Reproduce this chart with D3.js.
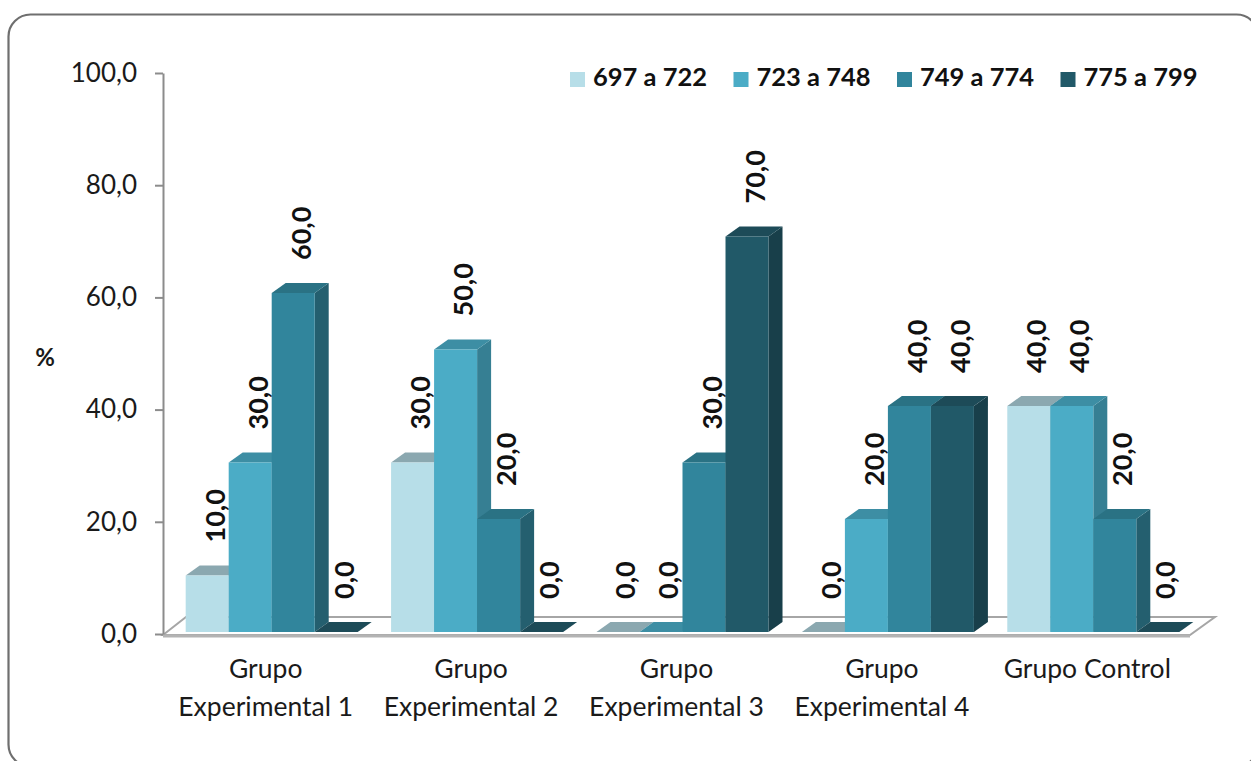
<!DOCTYPE html>
<html>
<head>
<meta charset="utf-8">
<script src="https://cdn.jsdelivr.net/npm/d3@7"></script>
<style>
  html, body { margin: 0; padding: 0; background: #fff; }
  svg { display: block; }
</style>
</head>
<body>
<svg id="chart" width="1251" height="761"></svg>
<script>
// ---- data ----
const categories = ["Grupo Experimental 1", "Grupo Experimental 2", "Grupo Experimental 3", "Grupo Experimental 4", "Grupo Control"];
const seriesNames = ["697 a 722", "723 a 748", "749 a 774", "775 a 799"];
const values697 = [10, 30, 0, 0, 40];
const values723 = [30, 50, 0, 20, 40];
const values749 = [60, 20, 30, 40, 20];
const values775 = [0, 0, 70, 40, 0];
const yTicks = [0, 20, 40, 60, 80, 100];
const yTitle = "%";

// ---- styling ----
const faceColors = ["#b7dee8", "#4bacc6", "#31859c", "#215968"];
const topColors  = ["#8ba8b0", "#3d8ea4", "#2a7284", "#1d4b58"];
const sideColors = ["#93b2ba", "#367f93", "#245f6f", "#183f4a"];
const seriesValues = [values697, values723, values749, values775];

const svg = d3.select("#chart");
const fmt = d3.formatLocale({ decimal: ",", thousands: ".", grouping: [3], currency: ["", ""] }).format(".1f");
const FONT = "Lato, 'Open Sans', sans-serif";

// outer rounded frame
svg.append("rect")
  .attr("x", 8.5).attr("y", 14.5)
  .attr("width", 1250).attr("height", 752)
  .attr("rx", 22).attr("ry", 22)
  .attr("fill", "#fff").attr("stroke", "#6f6f6f").attr("stroke-width", 2.2);

// ---- geometry of the 3D box ----
const plotLeft = 163, plotRight = 1190;
const floorFrontY = 635;
const floorDepth = { dx: 23, dy: -18 };
const barDepth = { dx: 14, dy: -10 };
const barShiftX = 6;

const x = d3.scaleBand().domain(categories).range([plotLeft, plotRight]).paddingInner(0).paddingOuter(0);
const xs = d3.scaleBand().domain(seriesNames).range([0, x.bandwidth()]).paddingInner(0).paddingOuter(0.388);
const yBar = d3.scaleLinear().domain([0, 100]).range([632, 67]);
const yAx = d3.scaleLinear().domain([0, 100]).range([634, 73]);

// floor
const floorPts = [
  [plotLeft, floorFrontY],
  [plotLeft + floorDepth.dx, floorFrontY + floorDepth.dy],
  [plotRight + floorDepth.dx + 2, floorFrontY + floorDepth.dy],
  [plotRight, floorFrontY]
];
svg.append("polygon")
  .attr("points", floorPts.map(p => p.join(",")).join(" "))
  .attr("fill", "#fff").attr("stroke", "#a6a6a6").attr("stroke-width", 2);
svg.append("line")
  .attr("x1", plotLeft).attr("x2", plotRight)
  .attr("y1", floorFrontY + 1).attr("y2", floorFrontY + 1)
  .attr("stroke", "#b3b3b3").attr("stroke-width", 3);

// value axis
const axisG = svg.append("g").attr("transform", `translate(${plotLeft},0)`)
  .call(d3.axisLeft(yAx).tickValues(yTicks).tickFormat(fmt).tickSize(8).tickSizeOuter(0).tickPadding(18));
axisG.select(".domain").attr("stroke", "#8c8c8c").attr("stroke-width", 2);
axisG.selectAll(".tick line").attr("stroke", "#8c8c8c").attr("stroke-width", 2);
axisG.selectAll(".tick text")
  .attr("font-family", FONT).attr("font-size", 26).attr("fill", "#1a1a1a");

// axis title
svg.append("text").attr("x", 45).attr("y", 366).attr("text-anchor", "middle")
  .attr("font-family", FONT).attr("font-weight", "bold")
  .attr("font-size", 24).attr("fill", "#1a1a1a").text(yTitle);

// ---- bars ----
const barsG = svg.append("g");
const labelsG = svg.append("g");
const poly = pts => pts.map(p => p.join(",")).join(" ");

categories.forEach((cat, ci) => {
  seriesNames.forEach((s, si) => {
    const v = seriesValues[si][ci];
    const x0 = x(cat) + xs(s) + barShiftX;
    const x1 = x0 + xs.bandwidth();
    const yb = yBar(0), yt = yBar(v);
    const dx = barDepth.dx, dy = barDepth.dy;
    const g = barsG.append("g");
    // right side
    g.append("polygon")
      .attr("points", poly([[x1, yt], [x1 + dx, yt + dy], [x1 + dx, yb + dy], [x1, yb]]))
      .attr("fill", sideColors[si]);
    // top
    g.append("polygon")
      .attr("points", poly([[x0, yt], [x0 + dx, yt + dy], [x1 + dx, yt + dy], [x1, yt]]))
      .attr("fill", topColors[si]);
    // front
    g.append("rect")
      .attr("x", x0).attr("y", yt).attr("width", x1 - x0).attr("height", yb - yt)
      .attr("fill", faceColors[si]);

    // value label, rotated, above the bar
    const lx = (x0 + x1) / 2 + dx / 2;
    const ly = yt + dy - 23;
    labelsG.append("text")
      .attr("transform", `translate(${lx},${ly}) rotate(-90)`)
      .attr("text-anchor", "start").attr("dominant-baseline", "central")
      .attr("font-family", FONT).attr("font-weight", "bold")
      .attr("font-size", 27).attr("fill", "#111")
      .text(fmt(v));
  });
});

// ---- category labels (wrapped to the band width) ----
const catG = svg.append("g")
  .attr("font-family", FONT).attr("font-size", 26.5).attr("fill", "#1a1a1a")
  .attr("text-anchor", "middle");
categories.forEach(cat => {
  const cx = x(cat) + x.bandwidth() / 2;
  const t = catG.append("text").attr("x", cx).attr("y", 678).text(cat);
  if (t.node().getComputedTextLength() > x.bandwidth() - 20) {
    const words = cat.split(" ");
    t.text(null);
    t.append("tspan").attr("x", cx).attr("y", 678).text(words[0]);
    t.append("tspan").attr("x", cx).attr("y", 716).text(words.slice(1).join(" "));
  }
});

// ---- legend ----
const legendG = svg.append("g");
seriesNames.forEach((s, si) => {
  const lx = 570 + si * 163.5;
  legendG.append("rect").attr("x", lx).attr("y", 72).attr("width", 15).attr("height", 15)
    .attr("fill", faceColors[si]);
  legendG.append("text").attr("x", lx + 23).attr("y", 86)
    .attr("font-family", FONT).attr("font-weight", "bold")
    .attr("font-size", 25.5).attr("fill", "#111").text(s);
});
</script>
</body>
</html>
